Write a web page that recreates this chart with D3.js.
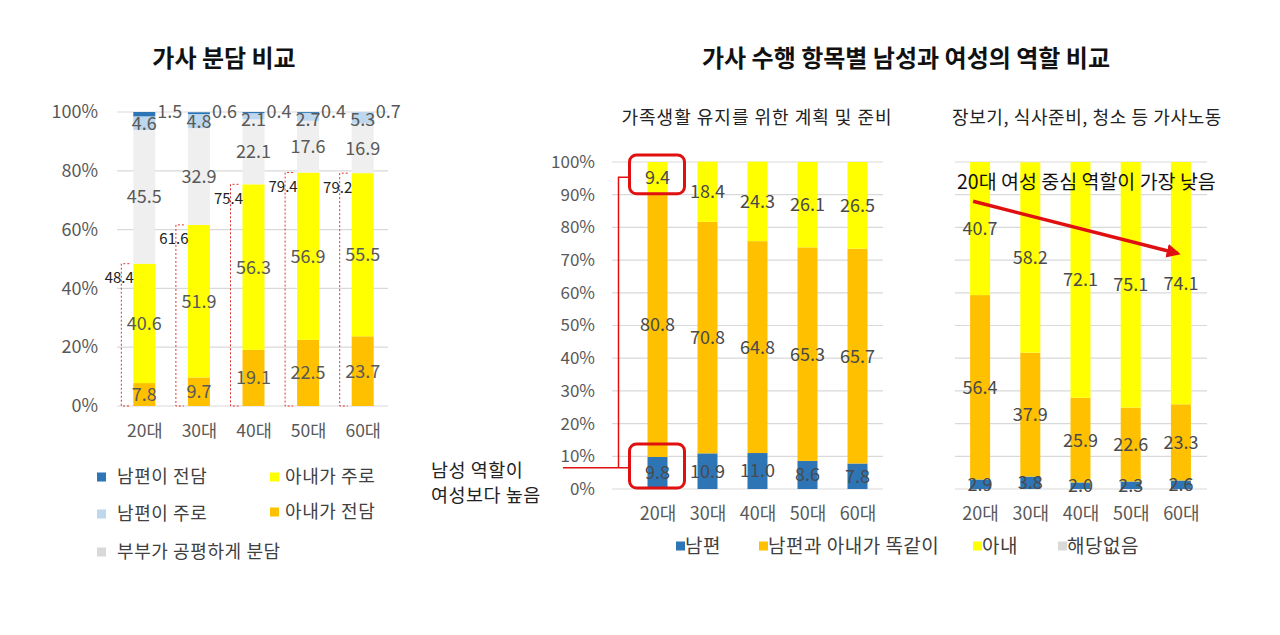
<!DOCTYPE html>
<html>
<head>
<meta charset="utf-8">
<script src="https://cdn.jsdelivr.net/npm/d3@7"></script>
<style>
  body { margin: 0; background: #fff; }
  svg { display: block; font-family: "Noto Sans CJK KR", "Noto Sans", sans-serif; }
</style>
</head>
<body>
<script>
const FONT = '"Noto Sans CJK KR", "Noto Sans", sans-serif'

// age groups shared by all three charts
const ageGroups = ['20대', '30대', '40대', '50대', '60대']

// left chart: 가사 분담 비교 (stacked bottom -> top)
const shareKeys = ['아내가 전담', '아내가 주로', '부부가 공평하게 분담', '남편이 주로', '남편이 전담']
const wifeAll = [7.8, 9.7, 19.1, 22.5, 23.7]
const wifeMostly = [40.6, 51.9, 56.3, 56.9, 55.5]
const equalShare = [45.5, 32.9, 22.1, 17.6, 16.9]
const husbandMostly = [4.6, 4.8, 2.1, 2.7, 5.3]
const husbandAll = [1.5, 0.6, 0.4, 0.4, 0.7]
const wifeTotal = [48.4, 61.6, 75.4, 79.4, 79.2]
const leftTicks = [0, 20, 40, 60, 80, 100]
const leftLegendCol1 = ['남편이 전담', '남편이 주로', '부부가 공평하게 분담']
const leftLegendCol2 = ['아내가 주로', '아내가 전담']

// middle / right charts (stacked bottom -> top)
const roleKeys = ['남편', '남편과 아내가 똑같이', '아내']
const planHusband = [9.8, 10.9, 11.0, 8.6, 7.8]
const planEqual = [80.8, 70.8, 64.8, 65.3, 65.7]
const planWife = [9.4, 18.4, 24.3, 26.1, 26.5]
const choreHusband = [2.9, 3.8, 2.0, 2.3, 2.6]
const choreEqual = [56.4, 37.9, 25.9, 22.6, 23.3]
const choreWife = [40.7, 58.2, 72.1, 75.1, 74.1]
const roleTicks = [0, 10, 20, 30, 40, 50, 60, 70, 80, 90, 100]
const roleLegend = ['남편', '남편과 아내가 똑같이', '아내', '해당없음']

const colors = {
    '아내가 전담': '#ffc000', '아내가 주로': '#ffff00', '부부가 공평하게 분담': '#efefef',
    '남편이 주로': '#bdd7ee', '남편이 전담': '#2e75b6',
    '남편': '#2e75b6', '남편과 아내가 똑같이': '#ffc000', '아내': '#ffff00', '해당없음': '#d9d9d9'
}
const legendColors = Object.assign({}, colors, {'부부가 공평하게 분담': '#d9d9d9'})

const svg = d3.select('body').append('svg')
    .attr('width', 1280)
    .attr('height', 635)

// titles
svg.append('text').attr('x', 224).attr('y', 67).attr('text-anchor', 'middle')
    .style('font-size', '24px').style('font-weight', 'bold').attr('fill', '#111')
    .text('가사 분담 비교')
svg.append('text').attr('x', 906).attr('y', 67).attr('text-anchor', 'middle')
    .style('font-size', '24px').style('font-weight', 'bold').attr('fill', '#111')
    .text('가사 수행 항목별 남성과 여성의 역할 비교')
svg.append('text').attr('x', 757).attr('y', 124).attr('text-anchor', 'middle')
    .style('font-size', '18px').style('letter-spacing', '1px').attr('fill', '#222')
    .text('가족생활 유지를 위한 계획 및 준비')
svg.append('text').attr('x', 1087).attr('y', 124).attr('text-anchor', 'middle')
    .style('font-size', '18px').style('letter-spacing', '0.6px').attr('fill', '#222')
    .text('장보기, 식사준비, 청소 등 가사노동')

function buildRows(keys, values) {
    return ageGroups.map((a, i) => {
        const r = {age: a}
        keys.forEach((k, j) => r[k] = values[j][i])
        return r
    })
}

function grid(x0, x1, y, ticks) {
    svg.append('g').selectAll('line').data(ticks).join('line')
        .attr('x1', x0).attr('x2', x1)
        .attr('y1', d => y(d)).attr('y2', d => y(d))
        .attr('stroke', '#d9d9d9').attr('stroke-width', 1.2)
}

function bars(stacked, x, y, bw) {
    stacked.forEach(s => {
        svg.append('g').selectAll('rect').data(s).join('rect')
            .attr('x', d => x(d.data.age) - bw / 2)
            .attr('y', d => y(d[1]))
            .attr('width', bw)
            .attr('height', d => Math.max(0, y(d[0]) - y(d[1])))
            .attr('fill', colors[s.key])
    })
}

function yAxis(x0, y, ticks, pad, size) {
    const g = svg.append('g').attr('transform', `translate(${x0},0)`)
        .call(d3.axisLeft(y).tickValues(ticks).tickSize(0).tickPadding(pad).tickFormat(d => d + '%'))
    g.select('.domain').remove()
    g.attr('font-family', FONT).attr('font-size', size)
    g.selectAll('text').attr('fill', '#595959')
}

function xAxis(y0, x, pad, size) {
    const g = svg.append('g').attr('transform', `translate(0,${y0})`)
        .call(d3.axisBottom(x).tickSize(0).tickPadding(pad))
    g.select('.domain').remove()
    g.attr('font-family', FONT).attr('font-size', size)
    g.selectAll('text').attr('fill', '#595959')
}

// ---------- left chart ----------
const xL = d3.scalePoint().domain(ageGroups).range([117, 390]).padding(0.5)
const yL = d3.scaleLinear().domain([0, 100]).range([406, 112]).clamp(true)
const bwL = 22
grid(117, 388, yL, leftTicks)
const stackL = d3.stack().keys(shareKeys)(buildRows(shareKeys, [wifeAll, wifeMostly, equalShare, husbandMostly, husbandAll]))
bars(stackL, xL, yL, bwL)
yAxis(117, yL, leftTicks, 19, 18)
xAxis(406, xL, 19, 17.5)

stackL.forEach(s => {
    svg.append('g').selectAll('text').data(s).join('text')
        .attr('x', d => s.key === '남편이 전담' ? xL(d.data.age) + bwL / 2 + 2 : xL(d.data.age))
        .attr('y', d => {
            const c = (yL(d[0]) + yL(d[1])) / 2
            if (s.key === '남편이 전담') return yL(100)
            if (s.key === '남편이 주로') return Math.max(c, yL(100) + 8)
            return c
        })
        .attr('dy', '0.36em')
        .attr('text-anchor', s.key === '남편이 전담' ? 'start' : 'middle')
        .attr('fill', '#595959').style('font-size', '18px')
        .text(d => d.data[s.key].toFixed(1))
})

// red dashed brackets showing 아내 total
const sumG = svg.append('g')
ageGroups.forEach((a, i) => {
    const left = xL(a) - bwL / 2
    sumG.append('path')
        .attr('d', `M${left - 4},${yL(wifeTotal[i])} H${left - 12} V${yL(0)} H${left - 4}`)
        .attr('fill', 'none').attr('stroke', '#e03030').attr('stroke-width', 1)
        .attr('stroke-dasharray', '2,2')
    sumG.append('text')
        .attr('x', left - 14).attr('y', yL(wifeTotal[i]) + 14).attr('dy', '0.36em')
        .attr('text-anchor', 'middle').attr('fill', '#222').style('font-size', '15px')
        .text(wifeTotal[i].toFixed(1))
})

// left legend
leftLegendCol1.forEach((k, i) => {
    const yy = [477, 514, 552][i]
    svg.append('rect').attr('x', 97).attr('y', yy - 4.5).attr('width', 9).attr('height', 9).attr('fill', legendColors[k])
    svg.append('text').attr('x', 117).attr('y', yy).attr('dy', '0.36em').attr('fill', '#404040')
        .style('font-size', '18px').style('letter-spacing', '0.6px').text(k)
})
leftLegendCol2.forEach((k, i) => {
    const yy = [477, 512][i]
    svg.append('rect').attr('x', 270).attr('y', yy - 4.5).attr('width', 9).attr('height', 9).attr('fill', legendColors[k])
    svg.append('text').attr('x', 285).attr('y', yy).attr('dy', '0.36em').attr('fill', '#404040')
        .style('font-size', '18px').style('letter-spacing', '0.6px').text(k)
})

// ---------- middle & right charts ----------
const yR = d3.scaleLinear().domain([0, 100]).range([489, 162])
const xM = d3.scalePoint().domain(ageGroups).range([632.5, 882.5]).padding(0.5)
const xR = d3.scalePoint().domain(ageGroups).range([955, 1206]).padding(0.5)
const bwR = 20

grid(612, 883, yR, roleTicks)
grid(955, 1207, yR, roleTicks)

const stackM = d3.stack().keys(roleKeys)(buildRows(roleKeys, [planHusband, planEqual, planWife]))
const stackR = d3.stack().keys(roleKeys)(buildRows(roleKeys, [choreHusband, choreEqual, choreWife]))
bars(stackM, xM, yR, bwR)
bars(stackR, xR, yR, bwR)
yAxis(612, yR, roleTicks, 17, 17)
xAxis(489, xM, 18, 18)
xAxis(489, xR, 18, 18)

function segLabels(stacked, x) {
    stacked.forEach(s => {
        svg.append('g').selectAll('text').data(s).join('text')
            .attr('x', d => x(d.data.age))
            .attr('y', d => (yR(d[0]) + yR(d[1])) / 2)
            .attr('dy', '0.36em').attr('text-anchor', 'middle')
            .attr('fill', '#4a4a4a').style('font-size', '18px')
            .text(d => d.data[s.key].toFixed(1))
    })
}
segLabels(stackM, xM)
segLabels(stackR, xR)

// red callouts on the middle chart
const c20 = xM('20대')
svg.append('rect').attr('x', c20 - 28).attr('y', yR(100) - 7).attr('width', 55)
    .attr('height', yR(100 - planWife[0]) - yR(100) + 8).attr('rx', 7)
    .attr('fill', 'none').attr('stroke', '#e01010').attr('stroke-width', 3)
svg.append('rect').attr('x', c20 - 28).attr('y', yR(planHusband[0]) - 13).attr('width', 55)
    .attr('height', yR(0) - yR(planHusband[0]) + 12).attr('rx', 7)
    .attr('fill', 'none').attr('stroke', '#e01010').attr('stroke-width', 3)
svg.append('path')
    .attr('d', `M${c20 - 28},${yR(100 - planWife[0] / 2)} H${c20 - 39} V${yR(6.5)} H563 M${c20 - 39},${yR(6.5)} H${c20 - 28}`)
    .attr('fill', 'none').attr('stroke', '#e01010').attr('stroke-width', 1.5)
svg.append('text').attr('x', 431).attr('y', 477).attr('fill', '#222')
    .style('font-size', '18.5px').style('letter-spacing', '0.5px').text('남성 역할이')
svg.append('text').attr('x', 431).attr('y', 502).attr('fill', '#222')
    .style('font-size', '18.5px').style('letter-spacing', '0.5px').text('여성보다 높음')

// arrow on the right chart
svg.append('defs').append('marker')
    .attr('id', 'arrow').attr('viewBox', '0 0 10 10').attr('refX', 8).attr('refY', 5)
    .attr('markerWidth', 4).attr('markerHeight', 4).attr('orient', 'auto')
    .append('path').attr('d', 'M0,0 L10,5 L0,10 z').attr('fill', '#e01010')
svg.append('line')
    .attr('x1', xR('20대') - 7).attr('y1', yR(88))
    .attr('x2', xR('60대') - 3).attr('y2', yR(72))
    .attr('stroke', '#e01010').attr('stroke-width', 3.5).attr('marker-end', 'url(#arrow)')
svg.append('text').attr('x', 957).attr('y', 189).attr('fill', '#111')
    .style('font-size', '19.5px')
    .text('20대 여성 중심 역할이 가장 낮음')

// bottom legend
const legX = [676, 759, 973, 1058]
roleLegend.forEach((k, i) => {
    svg.append('rect').attr('x', legX[i]).attr('y', 546 - 4.5).attr('width', 9).attr('height', 9).attr('fill', legendColors[k])
    svg.append('text').attr('x', legX[i] + 9).attr('y', 546).attr('dy', '0.36em')
        .attr('fill', '#404040').style('font-size', '19px').style('letter-spacing', '0.5px').text(k)
})
</script>
</body>
</html>
